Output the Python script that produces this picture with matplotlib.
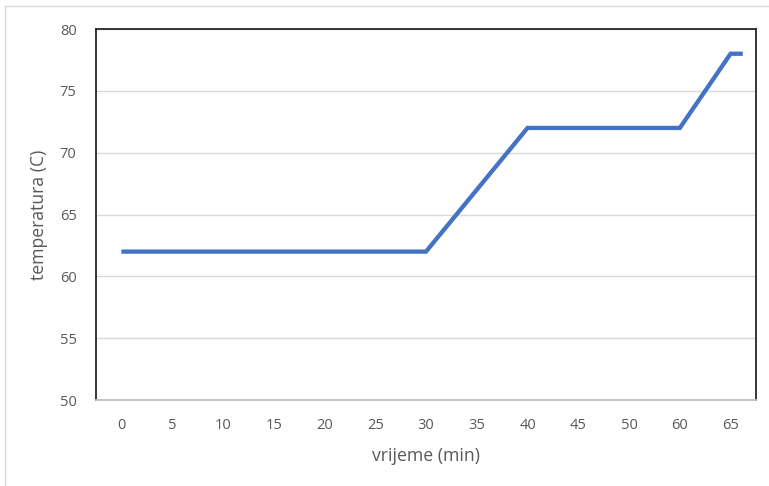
import matplotlib
matplotlib.use("Agg")
import matplotlib.pyplot as plt
from matplotlib.patches import Rectangle

# category axis (note: no 55 category in the original chart)
categories = ['0', '5', '10', '15', '20', '25', '30', '35', '40', '45', '50', '60', '65']
temperature = [62, 62, 62, 62, 62, 62, 62, 67, 72, 72, 72, 72, 78]
# line continues a little past the last category at the same value
tail_extent = 0.24
y_ticks = list(range(50, 85, 5))

plt.rcParams['font.family'] = ['Open Sans', 'DejaVu Sans']

W, H = 769, 486
fig = plt.figure(figsize=(W / 100, H / 100), dpi=100)
fig.patch.set_facecolor('white')
fig.add_artist(Rectangle((5 / W, -0.01), 1.02, 1 - 6 / H + 0.01, transform=fig.transFigure,
                         fill=False, edgecolor='#d9d9d9', linewidth=1))

ax = fig.add_axes([96 / W, 1 - 400 / H, (756 - 96) / W, (400 - 29) / H])
xpos = list(range(len(categories)))
xs = xpos + [xpos[-1] + tail_extent]
ys = temperature + [temperature[-1]]
ax.plot(xs, ys, color='#4472C4', linewidth=3.1, solid_capstyle='butt',
        solid_joinstyle='miter', zorder=3)

ax.set_xlim(-0.5, len(categories) - 0.5)
ax.set_ylim(50, 80)
ax.set_xticks(xpos)
ax.set_xticklabels(categories)
ax.set_yticks(y_ticks)
ax.tick_params(axis='both', length=0, labelsize=10.5, labelcolor='#595959')
ax.tick_params(axis='x', pad=13)
ax.tick_params(axis='y', pad=14)
ax.grid(axis='y', color='#d9d9d9', linewidth=1)
ax.set_axisbelow(True)

for s in ['left', 'top', 'right']:
    ax.spines[s].set_color('#262626')
    ax.spines[s].set_linewidth(1.3)
ax.spines['bottom'].set_color('#bfbfbf')
ax.spines['bottom'].set_linewidth(1.3)

ax.set_xlabel('vrijeme (min)', fontsize=12.7, color='#595959', labelpad=10)
ax.set_ylabel('temperatura (C)', fontsize=12.7, color='#595959', labelpad=8)

fig.savefig('out.png', dpi=100)
